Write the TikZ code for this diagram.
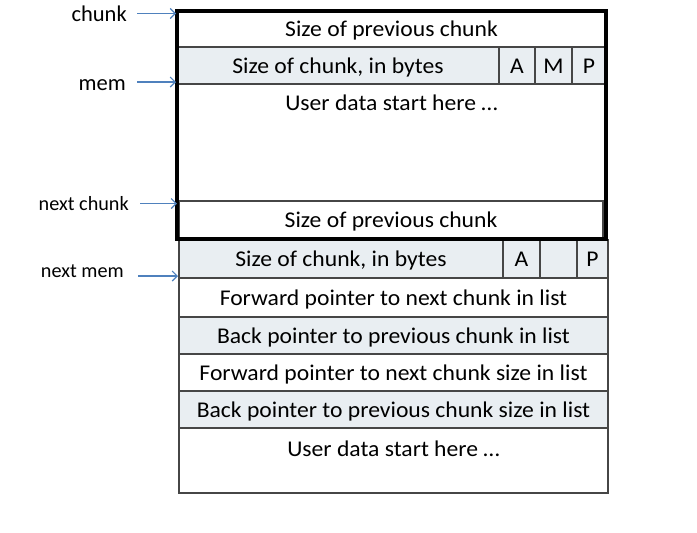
\documentclass[tikz,border=0pt]{standalone}
\usepackage{fontspec}
\setmainfont{Carlito}
\newfontfamily\cellfont{Carlito}[FakeStretch=1.05]
\usetikzlibrary{arrows.meta}
\definecolor{linegray}{RGB}{70,70,70}
\definecolor{shade}{RGB}{233,238,242}
\definecolor{ptrblue}{RGB}{79,129,189}
\begin{document}
\begin{tikzpicture}[x=1pt,y=-1pt,
  cell/.style={draw=linegray, line width=1.3pt, inner sep=0pt, text height=17pt, text depth=2pt, font=\cellfont\fontsize{22.5}{26}\selectfont},
  shaded/.style={cell, fill=shade},
  plain/.style={cell, fill=white},
  thickbox/.style={draw=black, line width=4pt, inner sep=0pt},
  lbl/.style={inner sep=0pt, font=\fontsize{22.5}{26}\selectfont},
  lblsmall/.style={inner sep=0pt, font=\fontsize{20.2}{24}\selectfont},
  txt/.style={inner sep=0pt, font=\cellfont\fontsize{22.5}{26}\selectfont},
  ptr/.style={draw=ptrblue, line width=1.1pt, -{Straight Barb[length=5pt,width=10pt,line width=1.1pt]}}
]
\useasboundingbox (0,0) rectangle (697,533);
\fill[white] (0,0) rectangle (697,533);

% ---------- next chunk (lower table) ----------
\node[shaded, minimum width=324pt, minimum height=38pt] (b1) at (341,259) {Size of chunk, in bytes};
\node[shaded, minimum width=37pt, minimum height=38pt] (ba) at (521.5,259) {A};
\node[shaded, minimum width=37pt, minimum height=38pt] (bm) at (558.5,259) {};
\node[shaded, minimum width=31pt, minimum height=38pt] (bp) at (592.5,259) {P};
\node[plain, minimum width=429pt, minimum height=38pt] (b2) at (393.5,297.5) {Forward pointer to next chunk in list};
\node[shaded, minimum width=429pt, minimum height=37pt] (b3) at (393.5,335.5) {Back pointer to previous chunk in list};
\node[plain, minimum width=429pt, minimum height=37pt] (b4) at (393.5,372.5) {Forward pointer to next chunk size in list};
\node[shaded, minimum width=429pt, minimum height=37pt] (b5) at (393.5,409.5) {Back pointer to previous chunk size in list};
\node[plain, minimum width=429pt, minimum height=65pt] (b6) at (393.5,460.5) {};
\node[txt, anchor=base] (b6t) at (393.5,456) {User data start here \dots};

% ---------- chunk (upper, thick box) ----------
\node[plain, minimum width=429pt, minimum height=36pt] (r1) at (391.5,29) {Size of previous chunk};
\node[shaded, minimum width=322pt, minimum height=37pt] (r2) at (338,65.5) {Size of chunk, in bytes};
\node[shaded, minimum width=36pt, minimum height=37pt] (ra) at (517,65.5) {A};
\node[shaded, minimum width=37pt, minimum height=37pt] (rm) at (553.5,65.5) {M};
\node[shaded, minimum width=34pt, minimum height=37pt] (rp) at (589,65.5) {P};
\node[plain, minimum width=429pt, minimum height=117pt] (r3) at (391.5,142.5) {};
\node[txt, anchor=base] (r3t) at (391.5,110.5) {User data start here \dots};
\node[plain, minimum width=424pt, minimum height=38pt] (r4) at (391,220) {Size of previous chunk};
\node[thickbox, minimum width=429pt, minimum height=228pt] (box) at (391.5,124.5) {};

% ---------- pointer labels ----------
\node[lbl, anchor=base east] (lchunk) at (127,21) {chunk};
\node[lbl, anchor=base east] (lmem) at (126,90) {mem};
\node[lblsmall, anchor=base east] (lnchunk) at (129,210) {next chunk};
\node[lblsmall, anchor=base east] (lnmem) at (124,277) {next mem};

\coordinate (tchunk) at (176,13.5);
\coordinate (tmem) at (176,82);
\coordinate (tnchunk) at (177,203.5);
\coordinate (tnmem) at (178,276);

\draw[ptr] ([xshift=10pt]lchunk.east |- tchunk) -- (tchunk);
\draw[ptr] ([xshift=11pt]lmem.east |- tmem) -- (tmem);
\draw[ptr] ([xshift=11pt]lnchunk.east |- tnchunk) -- (tnchunk);
\draw[ptr] ([xshift=14pt]lnmem.east |- tnmem) -- (tnmem);
\end{tikzpicture}
\end{document}
